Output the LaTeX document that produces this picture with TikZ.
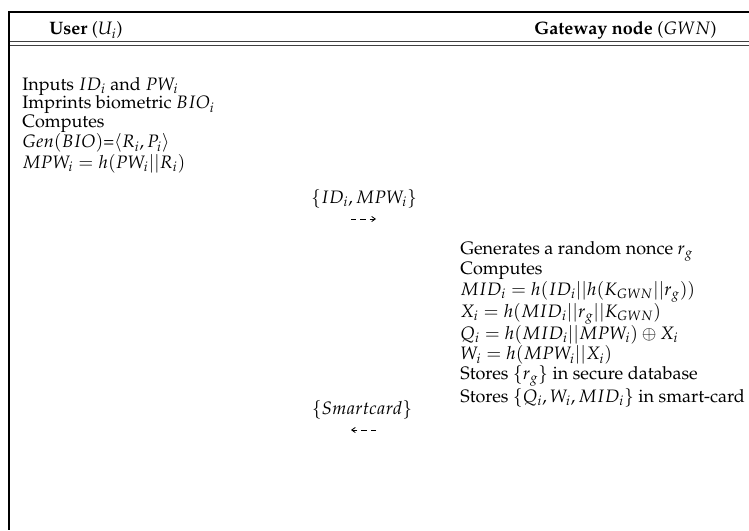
\documentclass[tikz,border=0pt]{standalone}
\usepackage[T1]{fontenc}
\usepackage{mathpazo}
\usepackage{amsmath}
\usetikzlibrary{arrows.meta}
\begin{document}
\begin{tikzpicture}[x=0.6667pt,y=-0.6667pt,
  txt/.style={inner sep=0pt, align=left, anchor=base west, font=\fontsize{12}{12.3}\selectfont},
  msg/.style={inner sep=0pt, anchor=base, font=\fontsize{12}{12}\selectfont},
  hdr/.style={inner sep=0pt, anchor=base, font=\fontsize{12}{12}\selectfont},
  flow/.style={line width=0.55pt, dash pattern=on 3.6pt off 2.6pt, -{Straight Barb[length=2.4pt,width=3.4pt]}},
  thickrule/.style={line width=0.9pt},
  thinrule/.style={line width=0.5pt, black!75}]
\useasboundingbox (0,0) rectangle (749,530);
\draw[thickrule] (8,12) -- (749,12);
\draw[thinrule] (9,41.5) -- (749,41.5);
\draw[thinrule] (9,45) -- (749,45);
\draw[thickrule] (9,12) -- (9,530);

\node[hdr] (user) at (86,35) {\textbf{User} ($U_i$)};
\node[hdr, anchor=base east] (gwn) at (717,35) {\textbf{Gateway node} ($GWN$)};

\node[txt] (left) at (22,168) {Inputs $ID_i$ and $PW_i$\\
Imprints biometric $BIO_i$\\
Computes\\
$Gen(BIO)$=$\langle R_i, P_i\rangle$\\
$MPW_i = h(PW_i||R_i)$};

\node[msg] (m1) at (364,203) {$\{ID_i, MPW_i\}$};
\coordinate (a1s) at (351,219);
\coordinate (a1e) at (376,219);
\draw[flow] (a1s) -- (a1e);

\node[txt] (right) at (460,402) {Generates a random nonce $r_g$\\
Computes\\
$MID_i = h(ID_i||h(K_{GWN}||r_g))$\\
$X_i = h(MID_i||r_g||K_{GWN})$\\
$Q_i = h(MID_i||MPW_i) \oplus X_i$\\
$W_i = h(MPW_i||X_i)$\\
Stores $\{r_g\}$ in secure database\\
Stores $\{Q_i, W_i, MID_i\}$ in smart-card};

\node[msg] (m2) at (362,414) {$\{Smartcard\}$};
\coordinate (a2s) at (376,430);
\coordinate (a2e) at (351,430);
\draw[flow] (a2s) -- (a2e);
\end{tikzpicture}
\end{document}
